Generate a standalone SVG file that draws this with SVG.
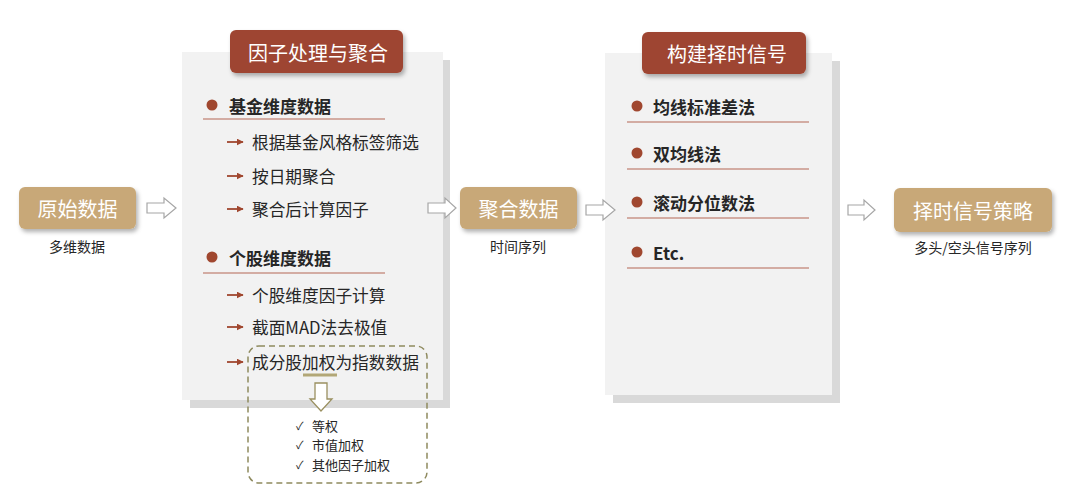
<svg xmlns="http://www.w3.org/2000/svg" width="1080" height="501" viewBox="0 0 1080 501">
<defs>
<filter id="sh" x="-20%" y="-20%" width="150%" height="160%">
<feDropShadow dx="2" dy="3" stdDeviation="2" flood-color="#000" flood-opacity="0.3"/>
</filter>
<marker id="ar" viewBox="0 0 10 10" refX="9" refY="5" markerWidth="7" markerHeight="7" markerUnits="userSpaceOnUse" orient="auto">
<path d="M0,0 L10,5 L0,10 z" fill="#A0472F"/>
</marker>
</defs>
<style>
text{font-family:"Noto Sans CJK SC","Noto Sans",sans-serif;dominant-baseline:central}
.panel{fill:#F2F2F2}
.pshadow{fill:#D9D9D9}
.title{fill:#9E4530}
.ttxt{fill:#fff;font-size:20px;text-anchor:middle}
.node{fill:#C8A878}
.ntxt{fill:#fff;font-size:20px;text-anchor:middle}
.lbl{fill:#262626;font-size:14px;text-anchor:middle}
.head{fill:#262626;font-size:17px;font-weight:bold}
.item{fill:#262626;font-size:16.7px}
.dot{fill:#A0472F}
.ul{stroke:#C99488;stroke-width:1.3}
.sub{stroke:#A0472F;stroke-width:1.8;marker-end:url(#ar)}
.harrow{fill:#fff;stroke:#A6A6A6;stroke-width:1.2}
.chk{fill:#262626;font-size:13px}
.ck{fill:#262626;font-size:11px}
</style>

<g id="panel1">
<rect class="pshadow" x="190" y="60" width="260" height="348"/>
<rect class="panel" x="182" y="52" width="261" height="348"/>
<rect class="title" x="230" y="30" width="173" height="43" rx="6" filter="url(#sh)"/>
<text class="ttxt" x="318" y="52">因子处理与聚合</text>
<circle class="dot" cx="212" cy="105" r="5.5"/>
<text class="head" x="229" y="105">基金维度数据</text>
<line class="ul" x1="203" y1="119" x2="385" y2="119"/>
<line class="sub" x1="227" y1="142" x2="243" y2="142"/>
<text class="item" x="252" y="142">根据基金风格标签筛选</text>
<line class="sub" x1="227" y1="176" x2="243" y2="176"/>
<text class="item" x="252" y="176">按日期聚合</text>
<line class="sub" x1="227" y1="209" x2="243" y2="209"/>
<text class="item" x="252" y="209">聚合后计算因子</text>
<circle class="dot" cx="212" cy="257" r="5.5"/>
<text class="head" x="229" y="257">个股维度数据</text>
<line class="ul" x1="203" y1="273" x2="385" y2="273"/>
<line class="sub" x1="227" y1="295" x2="243" y2="295"/>
<text class="item" x="252" y="295">个股维度因子计算</text>
<line class="sub" x1="227" y1="327" x2="243" y2="327"/>
<text class="item" x="252" y="327">截面MAD法去极值</text>
<line class="sub" x1="227" y1="362" x2="243" y2="362"/>
<text class="item" x="252" y="362">成分股加权为指数数据</text>
</g>

<g id="weighting">
<rect x="248" y="346" width="179" height="137" rx="11" fill="none" stroke="#8E8A5E" stroke-width="1.5" stroke-dasharray="6,4"/>
<line x1="303" y1="375" x2="337" y2="375" stroke="#B2A777" stroke-width="3"/>
<path d="M315,383 L327,383 L327,399 L332,399 L321,411 L310,399 L315,399 Z" fill="#fff" stroke="#9A9060" stroke-width="1.3"/>
<text class="ck" x="296" y="425">✓</text>
<text class="chk" x="312" y="425">等权</text>
<text class="ck" x="296" y="444">✓</text>
<text class="chk" x="312" y="444">市值加权</text>
<text class="ck" x="296" y="464">✓</text>
<text class="chk" x="312" y="464">其他因子加权</text>
</g>

<g id="panel2">
<rect class="pshadow" x="613" y="61" width="227" height="342"/>
<rect class="panel" x="605" y="53" width="227" height="342"/>
<rect class="title" x="642" y="32" width="164" height="42" rx="6" filter="url(#sh)"/>
<text class="ttxt" x="727" y="53">构建择时信号</text>
<circle class="dot" cx="637" cy="106" r="5.5"/>
<text class="head" x="653" y="106">均线标准差法</text>
<line class="ul" x1="627" y1="122" x2="809" y2="122"/>
<circle class="dot" cx="637" cy="153" r="5.5"/>
<text class="head" x="653" y="153">双均线法</text>
<line class="ul" x1="627" y1="169" x2="809" y2="169"/>
<circle class="dot" cx="637" cy="202" r="5.5"/>
<text class="head" x="653" y="202">滚动分位数法</text>
<line class="ul" x1="627" y1="218" x2="809" y2="218"/>
<circle class="dot" cx="637" cy="252" r="5.5"/>
<text class="head" x="653" y="252">Etc.</text>
<line class="ul" x1="627" y1="268" x2="809" y2="268"/>
</g>

<g id="n_raw">
<rect class="node" x="19" y="187" width="117" height="42" rx="6" filter="url(#sh)"/>
<text class="ntxt" x="77.5" y="208">原始数据</text>
<text class="lbl" x="77" y="246">多维数据</text>
</g>
<g id="n_agg">
<rect class="node" x="460" y="187" width="117" height="42" rx="6" filter="url(#sh)"/>
<text class="ntxt" x="518.5" y="208">聚合数据</text>
<text class="lbl" x="518" y="246">时间序列</text>
</g>
<g id="n_strategy">
<rect class="node" x="894" y="188" width="158" height="44" rx="6" filter="url(#sh)"/>
<text class="ntxt" x="973" y="210">择时信号策略</text>
<text class="lbl" x="973" y="247">多头/空头信号序列</text>
</g>

<g id="connectors">
<path class="harrow" d="M147,203 L164,203 L164,198 L176,208 L164,218 L164,213 L147,213 Z"/>
<path class="harrow" d="M428,203 L445,203 L445,198 L456,208 L445,218 L445,213 L428,213 Z"/>
<path class="harrow" d="M586,205 L603,205 L603,200 L615,210 L603,220 L603,215 L586,215 Z"/>
<path class="harrow" d="M848,205 L864,205 L864,200 L875,210 L864,220 L864,215 L848,215 Z"/>
</g>
</svg>
